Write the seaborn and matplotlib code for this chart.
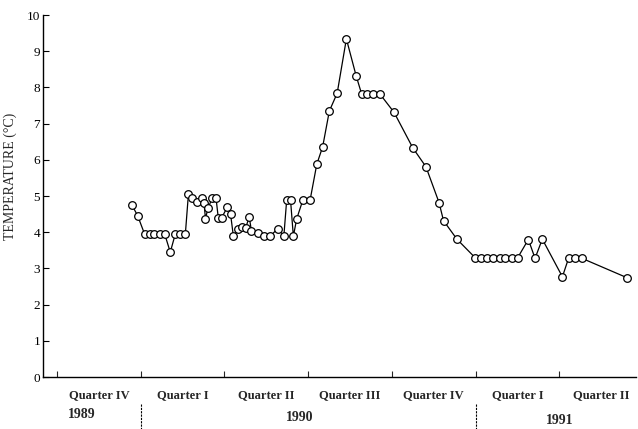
import matplotlib
matplotlib.use("Agg")
import matplotlib.pyplot as plt
import seaborn as sns
import pandas as pd

# Sampling time, in months counted from 1 October 1989
months = [2.68, 2.89, 3.14, 3.32, 3.49, 3.70, 3.86, 4.06, 4.24, 4.42, 4.60,
          4.71, 4.84, 5.00, 5.19, 5.27, 5.32, 5.42, 5.56, 5.70, 5.78, 5.90,
          6.11, 6.22, 6.32, 6.50, 6.64, 6.76, 6.89, 6.97, 7.22, 7.43, 7.65,
          7.91, 8.13, 8.23, 8.37, 8.47, 8.59, 8.81, 9.07, 9.31, 9.52, 9.76,
          10.04, 10.37, 10.72, 10.92, 11.12, 11.34, 11.58, 12.08, 12.75, 13.22,
          13.69, 13.85, 14.33, 14.98, 15.20, 15.42, 15.63, 15.86, 16.07, 16.29,
          16.51, 16.89, 17.13, 17.39, 18.11, 18.33, 18.57, 18.81, 20.44]

# Water temperature (°C)
temperature = [4.76, 4.46, 3.95, 3.95, 3.95, 3.95, 3.95, 3.45, 3.95, 3.95, 3.95,
               5.05, 4.94, 4.84, 4.94, 4.80, 4.38, 4.68, 4.94, 4.94, 4.40, 4.40,
               4.70, 4.50, 3.90, 4.08, 4.15, 4.12, 4.42, 4.03, 3.99, 3.90, 3.90,
               4.10, 3.90, 4.88, 4.88, 3.89, 4.37, 4.89, 4.89, 5.88, 6.36, 7.35,
               7.84, 9.34, 8.32, 7.81, 7.81, 7.81, 7.81, 7.31, 6.33, 5.81,
               4.82, 4.32, 3.81, 3.30, 3.30, 3.30, 3.30, 3.30, 3.30, 3.30,
               3.30, 3.80, 3.28, 3.81, 2.77, 3.28, 3.28, 3.28, 2.74]

quarter_starts = [0, 3, 6, 9, 12, 15, 18]
quarter_labels = ["Quarter IV", "Quarter I", "Quarter II", "Quarter III",
                  "Quarter IV", "Quarter I", "Quarter II"]
year_labels = ["1989", "1990", "1991"]
year_centers = [0.9, 8.7, 18.0]
year_dividers = [3, 15]

df = pd.DataFrame({"month": months, "temperature": temperature})

sns.set_style("ticks")
plt.rcParams["font.family"] = ["Liberation Serif", "DejaVu Serif"]

fig = plt.figure(figsize=(6.38, 4.29), dpi=100)
ax = fig.add_axes([0.0674, 0.121, 0.9296, 0.844])

sns.lineplot(data=df, x="month", y="temperature", sort=False, ax=ax,
             color="black", linewidth=0.9, marker="o", markersize=5.5,
             markerfacecolor="white", markeredgecolor="black",
             markeredgewidth=0.9)

ax.set_xlim(-0.5, 20.75)
ax.set_ylim(0, 10)
ax.set_yticks(range(0, 11))
ax.tick_params(axis="y", direction="in", length=4, width=0.8, labelsize=9.5,
               pad=2, colors="black")
ax.set_xticks(quarter_starts)
ax.set_xticklabels([])
ax.tick_params(axis="x", direction="in", length=4, width=0.8)

for side in ("top", "right"):
    ax.spines[side].set_visible(False)
for side in ("left", "bottom"):
    ax.spines[side].set_linewidth(1.0)
    ax.spines[side].set_color("black")

ax.set_xlabel("")
ax.set_ylabel("TEMPERATURE (°C)", fontsize=10)
ax.yaxis.set_label_coords(-0.044, 0.555)

trans = ax.get_xaxis_transform()
for start, label in zip(quarter_starts, quarter_labels):
    ax.text(start + 1.5, -0.05, label, transform=trans, ha="center",
            va="center", fontsize=9, fontweight="bold")

year_y = [-0.103, -0.111, -0.121]
for center, label, yy in zip(year_centers, year_labels, year_y):
    ax.text(center, yy, label, transform=trans, ha="center", va="center",
            fontsize=10, fontweight="bold")

for xd in year_dividers:
    ax.plot([xd, xd], [-0.075, -0.16], transform=trans, color="black",
            linewidth=0.8, linestyle=(0, (2, 1)), clip_on=False)

fig.savefig("out.png", dpi=100)
